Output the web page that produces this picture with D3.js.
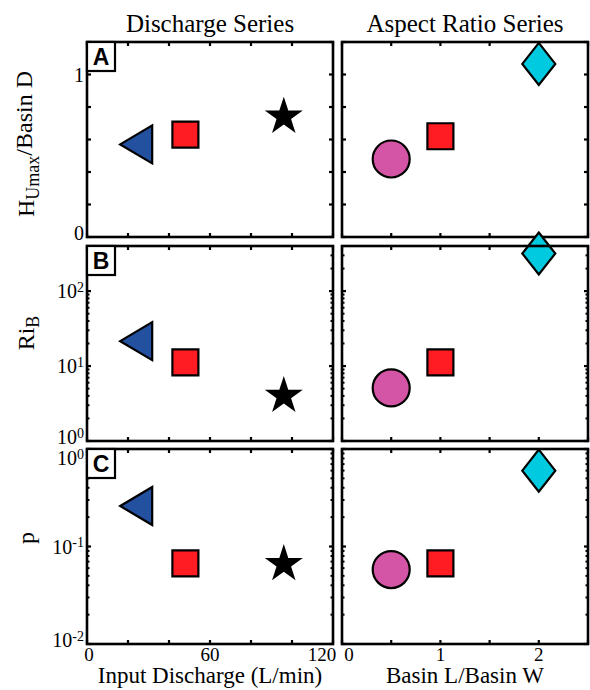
<!DOCTYPE html>
<html><head><meta charset="utf-8">
<script src="https://cdn.jsdelivr.net/npm/d3@7"></script>
<style>html,body{margin:0;padding:0;background:#fff}svg{display:block}
.serif{font-family:'Liberation Serif','Times New Roman',Times,serif}
.sans{font-family:'Liberation Sans',Arial,Helvetica,sans-serif}</style>
</head><body><svg id="c" width="590" height="690"></svg>
<script>
// ---- data ----
const columnTitles = ["Discharge Series", "Aspect Ratio Series"];
const xLabels = ["Input Discharge (L/min)", "Basin L/Basin W"];
const panelLetters = ["A", "B", "C"];

// Discharge series (triangle, square, star)
const discharge = [24, 48, 96];
const dischargeShapes = ["triangle", "square", "star"];
const dischargeH = [0.57, 0.63, 0.74];
const dischargeRi = [21.5, 11.2, 4.0];
const dischargeP = [0.26, 0.067, 0.066];

// Aspect ratio series (circle, square, diamond)
const aspect = [0.5, 1, 2];
const aspectShapes = ["circle", "square", "diamond"];
const aspectH = [0.48, 0.62, 1.065];
const aspectRi = [5.1, 11.2, 318];
const aspectP = [0.058, 0.067, 0.60];

const xTicksL = [0, 20, 40, 60, 80, 100, 120];
const xTickLabelsL = [0, 60, 120];
const xTicksR = [0, 0.5, 1, 1.5, 2, 2.5];
const xTickLabelsR = [0, 1, 2];
const yTicksA = [0, 0.2, 0.4, 0.6, 0.8, 1.0, 1.2];
const yTickLabelsA = [0, 1];
const yDomainA = [0, 1.2];
const yDomainB = [1, 400];
const yDecadesB = [1, 10, 100];
const yDomainC = [0.01, 1];
const yDecadesC = [0.01, 0.1, 1];

const colors = {triangle: "#2450a0", square: "#ff1c22", star: "#000000", circle: "#d455a5", diamond: "#00cadf"};

// ---- layout ----
const svg = d3.select("#c");
const colX = [[87, 333], [342, 588]];
const rowY = [[42, 237], [246, 441], [449, 644]];

function shapePath(s) {
  if (s === "triangle") return "M-16,0L16,-19L16,19Z";
  if (s === "square") return "M-13,-13H13V13H-13Z";
  if (s === "diamond") return "M0,-21L16.5,0L0,21L-16.5,0Z";
  if (s === "circle") return d3.symbol(d3.symbolCircle, Math.PI * 18.5 * 18.5)();
  if (s === "star") return d3.symbol(d3.symbolStar, 449)();
}

function logMinors(dom) {
  const out = [];
  const lo = Math.floor(Math.log10(dom[0])), hi = Math.ceil(Math.log10(dom[1]));
  for (let e = lo; e < hi; e++) for (let m = 2; m <= 9; m++) {
    const v = m * Math.pow(10, e);
    if (v > dom[0] && v < dom[1] * 1.0001) out.push(v);
  }
  return out;
}

function drawPanel(col, row) {
  const [x0, x1] = colX[col], [y0, y1] = rowY[row];
  const x = col === 0 ? d3.scaleLinear().domain([0, 120]).range([x0, x1])
                      : d3.scaleLinear().domain([0, 2.5]).range([x0, x1]);
  let y;
  if (row === 0) y = d3.scaleLinear().domain(yDomainA).range([y1, y0]);
  else if (row === 1) y = d3.scaleLog().domain(yDomainB).range([y1, y0]);
  else y = d3.scaleLog().domain(yDomainC).range([y1, y0]);
  const g = svg.append("g");
  const ticksG = g.append("g").attr("stroke", "#000").attr("stroke-width", 2.2);
  const xt = col === 0 ? xTicksL : xTicksR;
  xt.forEach(v => {
    const px = x(v);
    ticksG.append("line").attr("x1", px).attr("x2", px).attr("y1", y1).attr("y2", y1 - 4);
    ticksG.append("line").attr("x1", px).attr("x2", px).attr("y1", y0).attr("y2", y0 + 4);
  });
  let majors, minors = [];
  if (row === 0) majors = yTicksA;
  else if (row === 1) { majors = yDecadesB; minors = logMinors(yDomainB); }
  else { majors = yDecadesC; minors = logMinors(yDomainC); }
  majors.forEach(v => {
    const py = y(v);
    ticksG.append("line").attr("x1", x0).attr("x2", x0 + 4).attr("y1", py).attr("y2", py);
    ticksG.append("line").attr("x1", x1).attr("x2", x1 - 4).attr("y1", py).attr("y2", py);
  });
  minors.forEach(v => {
    const py = y(v);
    ticksG.append("line").attr("x1", x0).attr("x2", x0 + 2.5).attr("y1", py).attr("y2", py).attr("stroke-width", 2);
    ticksG.append("line").attr("x1", x1).attr("x2", x1 - 2.5).attr("y1", py).attr("y2", py).attr("stroke-width", 2);
  });
  // y tick labels (left column only)
  if (col === 0) {
    const labs = row === 0 ? yTickLabelsA : majors;
    labs.forEach(v => {
      let py = Math.min(Math.max(y(v), y0 + 9), y1 - 4);
      const t = g.append("text").attr("class", "serif").attr("x", x0 - 3).attr("y", py).attr("dy", "0.35em")
        .attr("text-anchor", "end").attr("font-size", 20);
      if (row === 0) t.text(v);
      else {
        t.append("tspan").text("10");
        t.append("tspan").attr("dy", "-0.45em").attr("font-size", 14).text(Math.round(Math.log10(v)));
      }
    });
  }
  // x tick labels (bottom row)
  if (row === 2) {
    const labs = col === 0 ? xTickLabelsL : xTickLabelsR;
    labs.forEach(v => {
      let px = x(v);
      px = col === 0 ? Math.min(Math.max(px, x0 + 2), x1 - 11) : Math.max(px, x0 + 7);
      g.append("text").attr("class", "serif").attr("x", px).attr("y", 661).attr("text-anchor", "middle")
        .attr("font-size", 19).text(v);
    });
  }
  // data
  const xs = col === 0 ? discharge : aspect;
  const shapes = col === 0 ? dischargeShapes : aspectShapes;
  const ys = [[dischargeH, dischargeRi, dischargeP], [aspectH, aspectRi, aspectP]][col][row];
  xs.forEach((xv, i) => {
    const s = shapes[i];
    g.append("path").attr("d", shapePath(s))
      .attr("transform", `translate(${x(xv)},${y(ys[i])})`)
      .attr("fill", colors[s])
      .attr("stroke", s === "star" ? "none" : "#000")
      .attr("stroke-width", 2.2).attr("stroke-linejoin", "miter");
  });
  // frame
  g.append("rect").attr("x", x0).attr("y", y0).attr("width", x1 - x0).attr("height", y1 - y0)
    .attr("fill", "none").attr("stroke", "#000").attr("stroke-width", 2.6);
  // panel letter
  if (col === 0) {
    g.append("rect").attr("x", x0).attr("y", y0).attr("width", 28).attr("height", 29)
      .attr("fill", "#fff").attr("stroke", "#000").attr("stroke-width", 2.2);
    g.append("text").attr("class", "sans").attr("x", x0 + 14).attr("y", y0 + 23).attr("text-anchor", "middle")
      .attr("font-weight", "bold").attr("font-size", 23).text(panelLetters[row]);
  }
}

for (let c = 0; c < 2; c++) for (let r = 0; r < 3; r++) drawPanel(c, r);

// column titles
columnTitles.forEach((t, i) => {
  svg.append("text").attr("class", "serif").attr("x", (colX[i][0] + colX[i][1]) / 2).attr("y", 32)
    .attr("text-anchor", "middle").attr("font-size", 25).text(t);
});
// x labels
xLabels.forEach((t, i) => {
  svg.append("text").attr("class", "serif").attr("x", (colX[i][0] + colX[i][1]) / 2).attr("y", 683)
    .attr("text-anchor", "middle").attr("font-size", 23).text(t);
});
// y labels
function yLabel(cy, parts) {
  const t = svg.append("text").attr("class", "serif").attr("transform", `translate(34,${cy}) rotate(-90)`)
    .attr("text-anchor", "middle").attr("font-size", 24);
  parts.forEach(p => {
    const ts = t.append("tspan").text(p[0]);
    if (p[1] === "sub") ts.attr("font-size", 18).attr("dy", "0.3em");
    if (p[1] === "back") ts.attr("dy", "-0.3em");
  });
}
yLabel(144, [["H"], ["Umax", "sub"], ["/Basin D", "back"]]);
yLabel(333, [["Ri"], ["B", "sub"]]);
yLabel(538, [["p"]]);
</script></body></html>
